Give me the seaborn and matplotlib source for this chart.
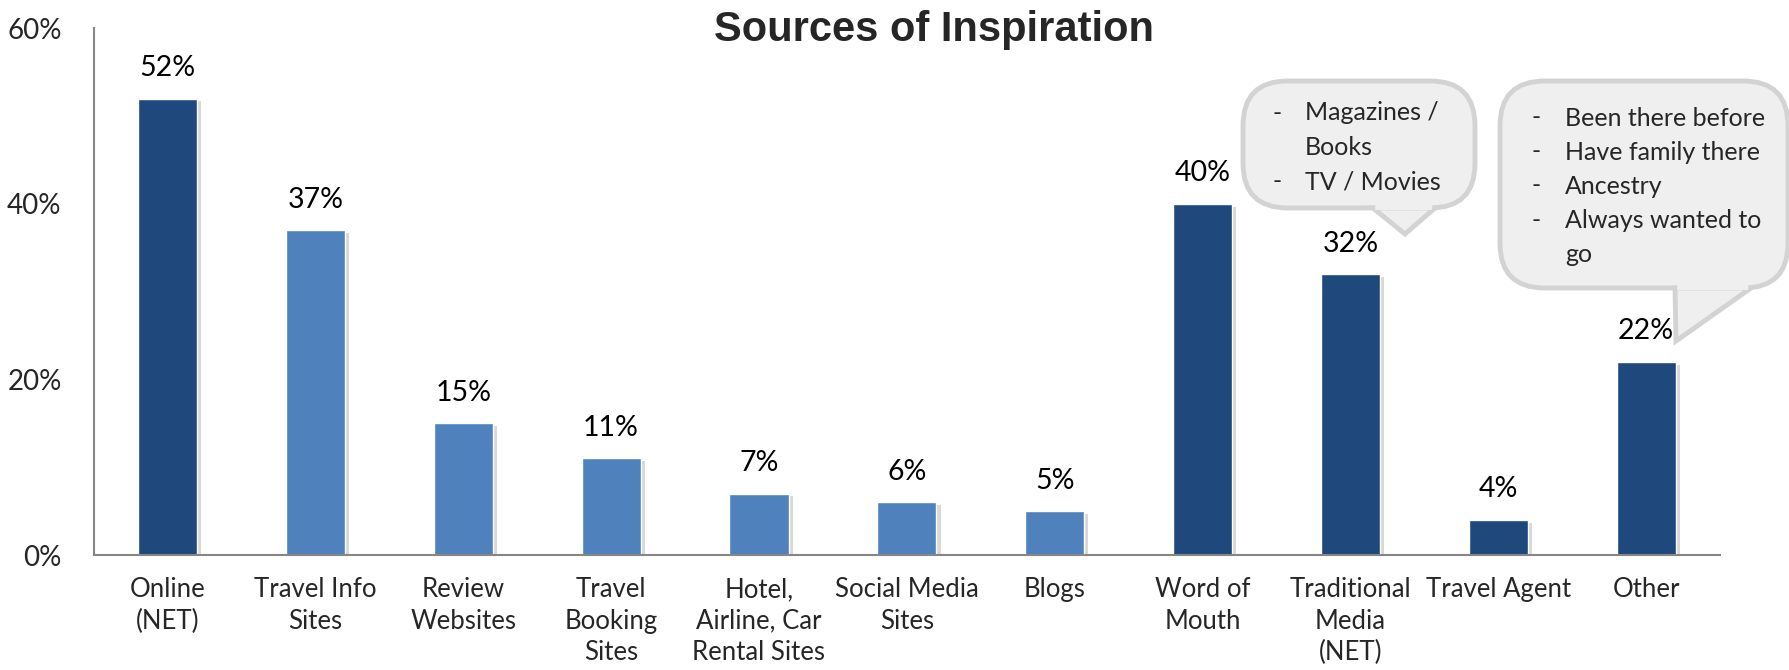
import matplotlib
matplotlib.use("Agg")
import matplotlib.pyplot as plt
import matplotlib.patheffects as pe
from matplotlib.patches import FancyBboxPatch, Polygon
import pandas as pd
import seaborn as sns

# chart data
categories = ["Online\n(NET)", "Travel Info\nSites", "Review\nWebsites", "Travel\nBooking\nSites",
              "Hotel,\nAirline, Car\nRental Sites", "Social Media\nSites", "Blogs", "Word of\nMouth",
              "Traditional\nMedia\n(NET)", "Travel Agent", "Other"]
values = [52, 37, 15, 11, 7, 6, 5, 40, 32, 4, 22]
groups = ["net", "sub", "sub", "sub", "sub", "sub", "sub", "net", "net", "net", "net"]
y_ticks = [0, 20, 40, 60]
callout_media = ["Magazines /\nBooks", "TV / Movies"]
callout_other = ["Been there before", "Have family there", "Ancestry", "Always wanted to\ngo"]

data = pd.DataFrame({"category": categories, "value": values, "group": groups})

sns.set_style("white")
plt.rcParams["font.family"] = ["Lato", "DejaVu Sans"]

W, H = 1790, 670
fig = plt.figure(figsize=(W / 100, H / 100), dpi=100)
ax = fig.add_axes([93.6 / W, 1 - 555 / H, (1720 - 93.6) / W, (555 - 28.5) / H])

sns.barplot(data=data, x="category", y="value", hue="group", order=categories,
            palette={"net": "#1F497D", "sub": "#4F81BD"}, dodge=False, width=0.4,
            saturation=1, legend=False, ax=ax)

# soft shadow on the bars
for bar in ax.patches:
    bar.set_path_effects([pe.SimplePatchShadow(offset=(3, -2), shadow_rgbFace="#AAAAAA", alpha=0.45),
                          pe.Normal()])

# value labels
for i, v in enumerate(values):
    ax.annotate(f"{v}%", (i, v), xytext=(0, 22), textcoords="offset points",
                ha="center", va="center", fontsize=20.5, color="black")

ax.set_ylim(0, 60)
ax.set_xlim(-0.5, len(categories) - 0.5)
ax.set_yticks(y_ticks)
ax.set_yticklabels([f"{t}%" for t in y_ticks], fontsize=20)
ax.set_xticks(range(len(categories)))
ax.set_xticklabels(categories, fontsize=18.5, linespacing=1.32)
ax.set_xticks([i - 0.5 for i in range(len(categories) + 1)], minor=True)
ax.tick_params(axis="x", which="major", length=0, pad=16)
ax.tick_params(axis="x", which="minor", length=8, width=1.5, color="#868686", direction="out")
ax.tick_params(axis="y", length=7, width=1.5, color="#868686", direction="out", pad=16)
ax.set_xlabel("")
ax.set_ylabel("")
for s in ["top", "right"]:
    ax.spines[s].set_visible(False)
for s in ["left", "bottom"]:
    ax.spines[s].set_color("#868686")
    ax.spines[s].set_linewidth(1.5)

fig.text(934 / W, 1 - 30 / H, "Sources of Inspiration", ha="center", va="center",
         fontsize=30, fontweight="bold", family="Liberation Sans")


def px(x, y):
    return (x / W, 1 - y / H)


def callout(x0, y0, x1, y1, pointer, lines, dash_x, text_x, first_y, step):
    face, edge = "#EFEFEF", "#D3D3D3"
    box = FancyBboxPatch(px(x0, y1), (x1 - x0) / W, (y1 - y0) / H,
                         boxstyle="round,pad=0,rounding_size=0.025", transform=fig.transFigure,
                         facecolor=face, edgecolor=edge, linewidth=3.5, mutation_aspect=W / H,
                         zorder=5)
    fig.patches.append(box)
    tri = Polygon([px(*p) for p in pointer], closed=True, transform=fig.transFigure,
                  facecolor=face, edgecolor=edge, linewidth=3.5, zorder=6)
    fig.patches.append(tri)
    # hide the seam between box and pointer
    (a, b, c) = pointer
    cover = Polygon([px(a[0] + 2.5, a[1] - 4), px(c[0] - 2.5, c[1] - 4),
                     px(c[0] - 3, c[1] + 2), px(a[0] + 2, a[1] + 2)],
                    closed=True, transform=fig.transFigure, facecolor=face,
                    edgecolor="none", zorder=7)
    fig.patches.append(cover)
    y = first_y
    for line in lines:
        fig.text(*px(dash_x, y), "-", ha="left", va="center", fontsize=18, zorder=8)
        for part in line.split("\n"):
            fig.text(*px(text_x, y), part, ha="left", va="center", fontsize=18, zorder=8)
            y += step


callout(1243, 81, 1475, 208, [(1373, 208), (1405, 234), (1435, 208)],
        callout_media, 1272, 1305, 113, 34.5)
callout(1500, 81, 1788, 288, [(1675, 288), (1676, 341), (1751, 288)],
        callout_other, 1532, 1565, 118, 34)

fig.savefig("out.png", dpi=100)
